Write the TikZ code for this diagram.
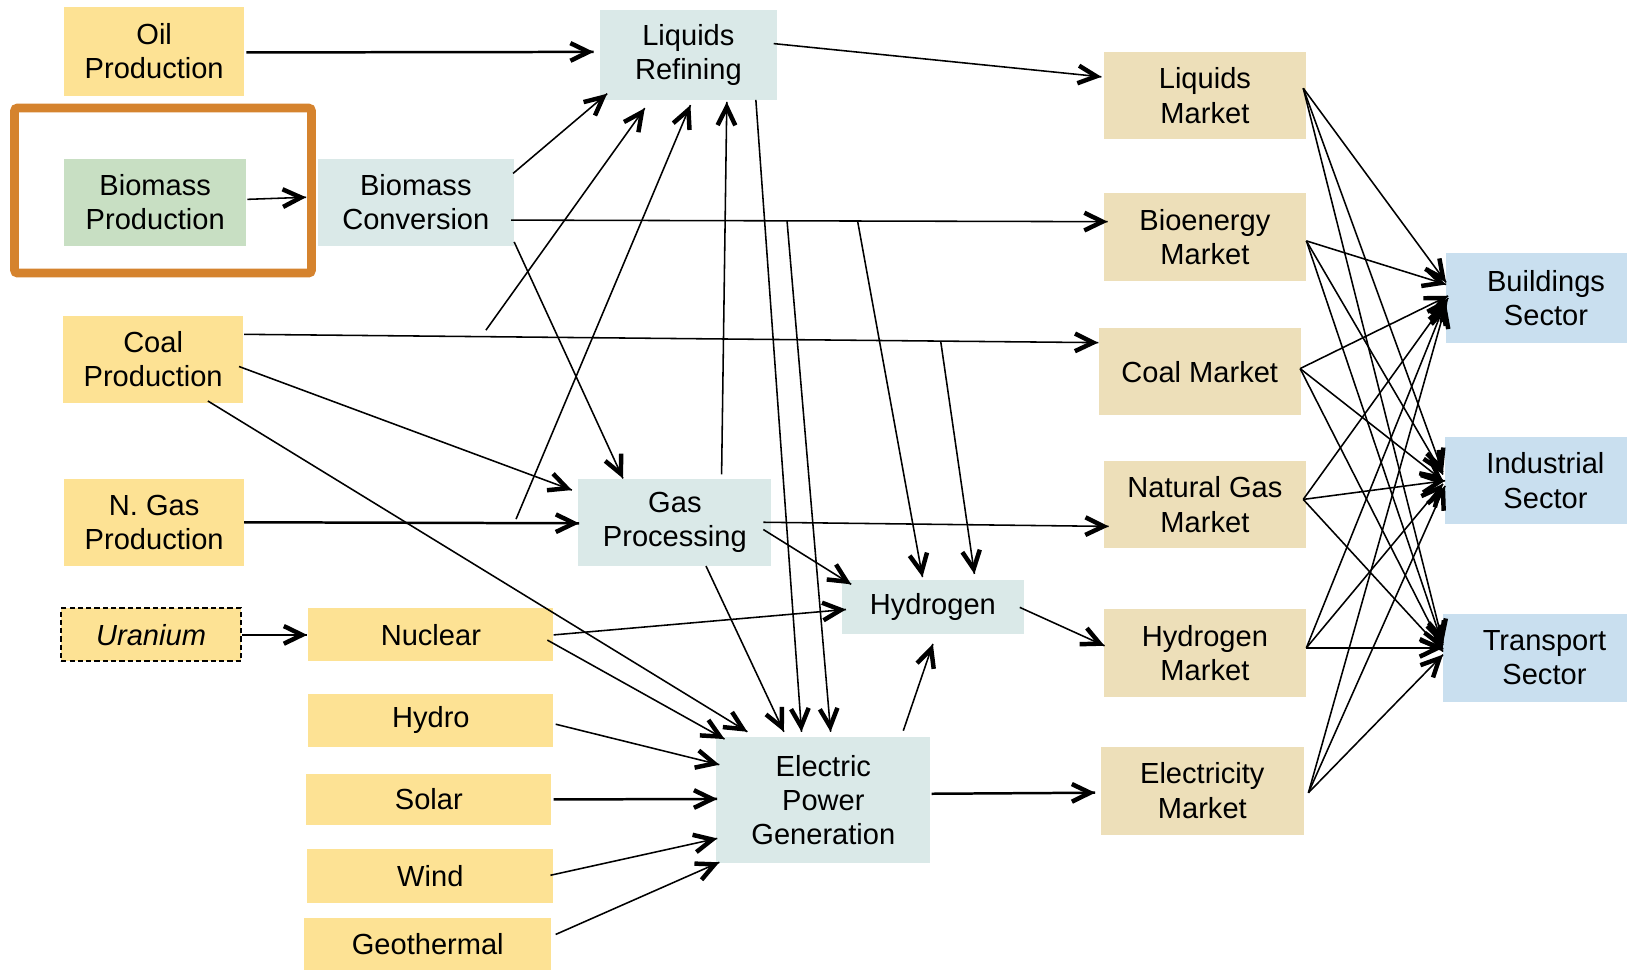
\documentclass[tikz,border=0pt]{standalone}
\usepackage{fontspec}
\setmainfont{Liberation Sans}
\usetikzlibrary{arrows.meta,calc,decorations.markings}
\definecolor{prodc}{HTML}{FDE294}
\definecolor{greenc}{HTML}{C8DFC3}
\definecolor{procc}{HTML}{DAE9E8}
\definecolor{marketc}{HTML}{EDDFB9}
\definecolor{sectorc}{HTML}{C9DFEF}
\definecolor{framec}{HTML}{D5832E}
\tikzset{
  box/.style={rectangle, inner sep=0pt, align=center, font=\fontsize{28}{33}\selectfont},
  prodbox/.style={box, fill=prodc},
  greenbox/.style={box, fill=greenc},
  procbox/.style={box, fill=procc},
  marketbox/.style={box, fill=marketc},
  sectorbox/.style={box, fill=sectorc},
  conn/.style={line width=1.5pt, postaction={decorate},
    decoration={markings, mark=at position 1 with {\arrow[line width=4.3pt]{Straight Barb[length=17.5pt,width=17pt]}}}},
  heavy/.style={line width=2.4pt},
}
\begin{document}
\begin{tikzpicture}[x=1pt,y=-1pt]
\useasboundingbox (0,0) rectangle (1568,934);
% frame
\node[draw=framec, line width=8.5pt, rounded corners=3pt, minimum width=286pt, minimum height=159pt, inner sep=0pt] (frame) at (157,183.5) {};
% left column
\node[prodbox, minimum width=173pt, minimum height=85pt] (oil) at (148.5,49.5) {Oil\\Production};
\node[greenbox, minimum width=175pt, minimum height=84pt] (bprod) at (149.5,195) {Biomass\\Production};
\node[procbox, minimum width=189pt, minimum height=84pt] (bconv) at (400.5,195) {Biomass\\Conversion};
\node[prodbox, minimum width=173pt, minimum height=84pt] (coal) at (147.5,346) {Coal\\Production};
\node[prodbox, minimum width=173pt, minimum height=84pt] (ngas) at (148.5,503) {N. Gas\\Production};
\node[prodbox, draw=black, dashed, dash pattern=on 5pt off 3pt, line width=1.8pt, minimum width=173pt, minimum height=51pt] (uran) at (145.5,611.5) {\itshape Uranium};
\node[prodbox, minimum width=236pt, minimum height=51pt] (nuc) at (415,611.5) {Nuclear};
\node[prodbox, minimum width=236pt, minimum height=51pt] (hydro) at (415,693.5) {Hydro};
\node[prodbox, minimum width=236pt, minimum height=50pt] (solar) at (413,770) {Solar};
\node[prodbox, minimum width=237pt, minimum height=52pt] (wind) at (414.5,844) {Wind};
\node[prodbox, minimum width=238pt, minimum height=50pt] (geo) at (412,909) {Geothermal};
% processing
\node[procbox, minimum width=170pt, minimum height=86pt] (lr) at (663,53) {Liquids\\Refining};
\node[procbox, minimum width=186pt, minimum height=84pt] (gp) at (650,503) {Gas\\Processing};
\node[procbox, minimum width=175pt, minimum height=52pt] (h2) at (898.5,585) {Hydrogen};
\node[procbox, minimum width=206pt, minimum height=121pt] (epg) at (793,770.5) {Electric\\Power\\Generation};
% markets
\node[marketbox, minimum width=195pt, minimum height=84pt] (lm) at (1160.5,92) {Liquids\\Market};
\node[marketbox, minimum width=195pt, minimum height=85pt] (bm) at (1160.5,228.5) {Bioenergy\\Market};
\node[marketbox, minimum width=195pt, minimum height=84pt] (cm) at (1155.5,358) {Coal Market};
\node[marketbox, minimum width=195pt, minimum height=84pt] (ngm) at (1160.5,486) {Natural Gas\\Market};
\node[marketbox, minimum width=195pt, minimum height=84pt] (hm) at (1160.5,629) {Hydrogen\\Market};
\node[marketbox, minimum width=196pt, minimum height=85pt] (em) at (1158,761.5) {Electricity\\Market};
% sectors
\node[sectorbox, minimum width=174pt, minimum height=86pt] (bs) at (1480,287) {\hspace*{18pt}Buildings\\\hspace*{18pt}Sector};
\node[sectorbox, minimum width=175pt, minimum height=84pt] (is) at (1479.5,463) {\hspace*{18pt}Industrial\\\hspace*{18pt}Sector};
\node[sectorbox, minimum width=177pt, minimum height=85pt] (ts) at (1478.5,633.5) {\hspace*{18pt}Transport\\\hspace*{18pt}Sector};
% branch points
\coordinate (cb1) at (468,318);
\coordinate (nb1) at (497,500);
\coordinate (bb1) at (758,212.5);
\coordinate (bb2) at (826,213);
\coordinate (cb2) at (906,328.5);
% connectors
\draw[conn,heavy] ($(oil.east)+(2,1)$) -- ($(lr.west)+(-6,-3)$);
\draw[conn] ($(bprod.east)+(1,-3)$) -- ($(bconv.west)+(-11,-5)$);
\draw[conn] ($(bconv.east)+(-1,-28)$) -- ($(lr.south west)+(7,-6)$);
\draw[conn] (cb1) -- ($(lr.south)+(-42,8)$);
\draw[conn] (nb1) -- ($(lr.south)+(2,5)$);
\draw[conn] ($(gp.north)+(45,-4)$) -- ($(lr.south)+(37,2)$);
\draw[conn] ($(lr.south)+(65,0)$) -- ($(epg.north)+(-21,-5)$);
\draw[conn] ($(bconv.east)+(-3,17)$) -- ($(bm.west)+(4,-15)$);
\draw[conn] (bb1) -- ($(epg.north)+(7,-5)$);
\draw[conn] (bb2) -- ($(h2.north)+(-10,-3)$);
\draw[conn] ($(bconv.east)+(0,38)$) -- ($(gp.north)+(-50,0)$);
\draw[conn] ($(coal.east)+(1,-24)$) -- ($(cm.west)+(0,-28)$);
\draw[conn] (cb2) -- ($(h2.north)+(40,-6)$);
\draw[conn] ($(coal.east)+(-4,7)$) -- ($(gp.west)+(-6,-31)$);
\draw[conn] ($(coal.south east)+(-34,-2)$) -- ($(epg.north west)+(30,-5)$);
\draw[conn,heavy] (ngas.east) -- ($(gp.west)+(1,1)$);
\draw[conn] ($(gp.east)+(-8,0)$) -- ($(ngm.west)+(5,21)$);
\draw[conn] ($(gp.east)+(-8,7)$) -- ($(h2.north west)+(9,4)$);
\draw[conn] ($(gp.south)+(30,0)$) -- ($(epg.north)+(-38,-5)$);
\draw[conn,heavy] (uran.east) -- ($(nuc.west)+(-1,0)$);
\draw[conn] (nuc.east) -- ($(h2.west)+(4,2)$);
\draw[conn] ($(nuc.east)+(-6,5)$) -- ($(epg.north west)+(8,2)$);
\draw[conn] ($(hydro.east)+(2,4)$) -- ($(epg.west)+(3,-34)$);
\draw[conn,heavy] ($(solar.east)+(2,0)$) -- ($(epg.west)+(1,-1)$);
\draw[conn] ($(wind.east)+(-3,-1)$) -- ($(epg.west)+(1,37)$);
\draw[conn] ($(geo.east)+(4,-9)$) -- ($(epg.west)+(3,60)$);
\draw[conn] ($(epg.north)+(77,-6)$) -- ($(h2.south)+(0,9)$);
\draw[conn] ($(h2.east)+(-4,0)$) -- ($(hm.west)+(1,-7)$);
\draw[conn,heavy] ($(epg.east)+(1,-6)$) -- ($(em.west)+(-5,2)$);
\draw[conn] ($(lr.east)+(-3,-11)$) -- ($(lm.west)+(-2,-18)$);
% markets to sectors
\draw[conn] ($(lm.east)+(-3,-7)$) -- ($(bs.west)+(0,-15)$);
\draw[conn] ($(lm.east)+(-3,-7)$) -- ($(is.west)+(-2,-8)$);
\draw[conn] ($(lm.east)+(-3,-7)$) -- ($(ts.west)+(0,-14)$);
\draw[conn] ($(bm.east)+(0,3.5)$) -- ($(bs.west)+(0,-13)$);
\draw[conn] ($(bm.east)+(0,3.5)$) -- ($(is.west)+(-2,-6)$);
\draw[conn] ($(bm.east)+(0,3.5)$) -- ($(ts.west)+(0,-12)$);
\draw[conn] ($(cm.east)+(-1,-3)$) -- ($(bs.west)+(2,-2)$);
\draw[conn] ($(cm.east)+(-1,-3)$) -- ($(is.west)+(-2,0)$);
\draw[conn] ($(cm.east)+(-1,-3)$) -- ($(ts.west)+(0,-8)$);
\draw[conn] ($(ngm.east)+(-3,-5)$) -- ($(bs.west)+(2,0)$);
\draw[conn] ($(ngm.east)+(-3,-5)$) -- ($(is.west)+(0,0)$);
\draw[conn] ($(ngm.east)+(-3,-5)$) -- ($(ts.west)+(0,-6)$);
\draw[conn] ($(hm.east)+(0,-5)$) -- ($(bs.west)+(0,3)$);
\draw[conn] ($(hm.east)+(0,-5)$) -- ($(is.west)+(-2,3)$);
\draw[conn] ($(hm.east)+(0,-5)$) -- ($(ts.west)+(0,-9.5)$);
\draw[conn] ($(em.east)+(4,2)$) -- ($(bs.west)+(0,6)$);
\draw[conn] ($(em.east)+(4,2)$) -- ($(is.west)+(0,5)$);
\draw[conn] ($(em.east)+(4,2)$) -- ($(ts.west)+(0,-3)$);
\end{tikzpicture}
\end{document}
